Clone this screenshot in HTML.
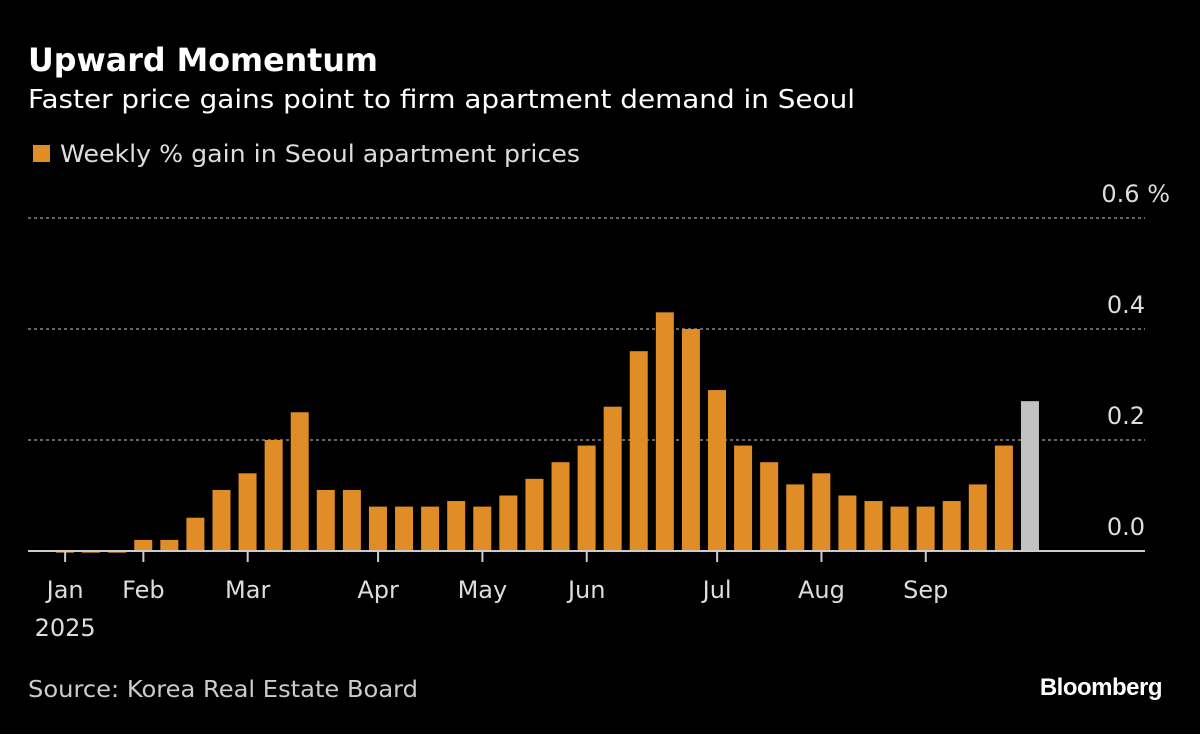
<!DOCTYPE html>
<html><head><meta charset="utf-8"><style>
body{margin:0;background:#000;width:1200px;height:729px;overflow:hidden;font-family:"Liberation Sans","DejaVu Sans",sans-serif;color:#fff}
</style></head><body>
<svg width="1200" height="729" xmlns="http://www.w3.org/2000/svg">
<text x="28" y="71" font-size="32" font-weight="bold" fill="#fff" font-family="DejaVu Sans, sans-serif" textLength="350" lengthAdjust="spacingAndGlyphs">Upward Momentum</text>
<text x="28" y="108" font-size="26" fill="#fff" font-family="DejaVu Sans, sans-serif" textLength="827" lengthAdjust="spacingAndGlyphs">Faster price gains point to firm apartment demand in Seoul</text>
<rect x="33" y="145" width="17" height="17" fill="#e08c27"/>
<text x="60" y="162" font-size="24" fill="#ddd" font-family="DejaVu Sans, sans-serif" textLength="520" lengthAdjust="spacingAndGlyphs">Weekly % gain in Seoul apartment prices</text>
<g id="grid"></g><g id="bars"></g><g id="axis"></g>
<text x="28" y="697" font-size="23" fill="#ccc" font-family="DejaVu Sans, sans-serif" textLength="390" lengthAdjust="spacingAndGlyphs">Source: Korea Real Estate Board</text>
<text x="1162" y="695" font-size="24" font-weight="bold" fill="#fff" text-anchor="end" letter-spacing="-0.5">Bloomberg</text>
</svg>
<script>
const values=[-0.003,-0.003,-0.003,0.02,0.02,0.06,0.11,0.14,0.20,0.25,0.11,0.11,0.08,0.08,0.08,0.09,0.08,0.10,0.13,0.16,0.19,0.26,0.36,0.43,0.40,0.29,0.19,0.16,0.12,0.14,0.10,0.09,0.08,0.08,0.09,0.12,0.19,0.27];
const yTicks=[0,0.2,0.4,0.6];
const yTickLabels=["0.0","0.2","0.4","0.6 %"];
const monthLabels=["Jan","Feb","Mar","Apr","May","Jun","Jul","Aug","Sep"];
const monthPos=[0.35,3.35,7.35,12.35,16.35,20.35,25.35,29.35,33.35];
const NS="http://www.w3.org/2000/svg";
const y0=551,pxPer=555,x0=56,step=26.08,bw=18;
const Y=v=>y0-v*pxPer, X=i=>x0+i*step;
function mk(tag,attrs,parent,txt){const e=document.createElementNS(NS,tag);for(const k in attrs)e.setAttribute(k,attrs[k]);if(txt!=null)e.textContent=txt;document.getElementById(parent).appendChild(e);return e;}
yTicks.forEach((t,i)=>{
 if(t!==0){const l=mk('line',{x1:28,x2:1145,y1:Y(t),y2:Y(t),stroke:'#888','stroke-width':1.5,'stroke-dasharray':'3,3'},'grid');
 
 }
 const tx=mk('text',{x:i===3?1170:1145,y:Y(t)-16,'font-size':24,fill:'#ddd','text-anchor':'end','font-family':'DejaVu Sans, sans-serif'},'grid',yTickLabels[i]);
 
 
});
values.forEach((v,i)=>{
 const top=Math.min(Y(v),y0),h=Math.max(Math.abs(v*pxPer),1.5);
 const r=mk('rect',{x:X(i),y:v>=0?top:y0,width:bw,height:h,fill:i===values.length-1?'#c2c2c2':'#e08c27'},'bars');
 
 
});
const ax=mk('line',{x1:28,x2:1145,y1:y0,y2:y0,stroke:'#ccc','stroke-width':2},'axis');


monthLabels.forEach((m,i)=>{
 const x=X(monthPos[i]);
 const t=mk('line',{x1:x,x2:x,y1:y0,y2:y0+11,stroke:'#ccc','stroke-width':2},'axis');
 
 
 const lb=mk('text',{x:x,y:598,'font-size':24,fill:'#ddd','text-anchor':'middle','font-family':'DejaVu Sans, sans-serif'},'axis',m);
 
 
});
const yr=mk('text',{x:X(monthPos[0]),y:636,'font-size':24,fill:'#ddd','text-anchor':'middle','font-family':'DejaVu Sans, sans-serif'},'axis','2025');


</script>
</body></html>
